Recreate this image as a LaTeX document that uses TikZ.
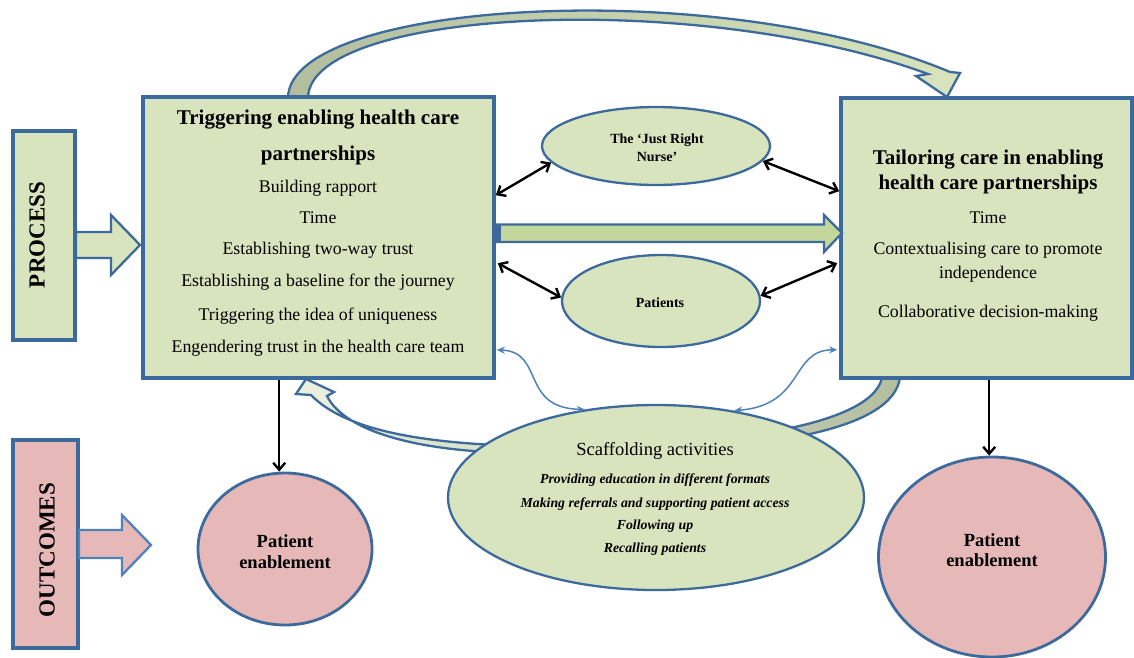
\documentclass[tikz,border=0pt]{standalone}
\usepackage{fontspec}
\setmainfont{Liberation Serif}
\usetikzlibrary{shapes.geometric,arrows.meta,calc}
\definecolor{bfill}{HTML}{D7E4BD}
\definecolor{bline}{HTML}{3D6A9C}
\definecolor{pfill}{HTML}{E6B9B8}
\definecolor{topfill}{HTML}{B3BE9F}
\definecolor{lgfill}{HTML}{EBF1DE}
\definecolor{midfill}{HTML}{C3D69B}
\definecolor{thinblue}{HTML}{4F81BD}
\begin{document}
\begin{tikzpicture}[x=1pt,y=-1pt,
  box/.style={draw=bline,line width=3.6pt,fill=bfill,inner sep=0pt},
  pbox/.style={draw=bline,line width=3.6pt,fill=pfill,inner sep=0pt},
  ell/.style={ellipse,draw=bline,line width=2.3pt,fill=bfill,inner sep=0pt},
  circ/.style={ellipse,draw=bline,line width=2.8pt,fill=pfill,inner sep=0pt},
  blk/.style={draw=bline,line width=2.3pt,line join=miter},
  dbl/.style={{Straight Barb[length=7pt,width=12pt]}-{Straight Barb[length=7pt,width=12pt]},line width=2.4pt,black},
  dn/.style={-{Straight Barb[length=7pt,width=12pt]},line width=2.4pt,black},
  thinarr/.style={{Stealth[length=8pt,width=7pt]}-{Stealth[length=8pt,width=7pt]},line width=1.5pt,thinblue},
  txt/.style={font=\fontsize{17.8}{20}\selectfont,inner sep=0pt,anchor=base},
  ttl/.style={font=\fontsize{21}{24}\selectfont\bfseries,inner sep=0pt,anchor=base},
  small/.style={font=\fontsize{14}{16}\selectfont\bfseries,inner sep=0pt,anchor=base},
  scaf/.style={font=\fontsize{18.5}{20}\selectfont,inner sep=0pt,anchor=base},
  itl/.style={font=\fontsize{13.8}{16}\selectfont\bfseries\itshape,inner sep=0pt,anchor=base},
  pe/.style={font=\fontsize{18.5}{20}\selectfont\bfseries,inner sep=0pt,anchor=base},
  side/.style={font=\fontsize{23}{25}\selectfont\bfseries,inner sep=0pt,rotate=90}
]
\useasboundingbox (0,0) rectangle (1134,657);

% top curved block arrow
\shadedraw[draw=bline,line width=2.3pt,line join=miter,left color=topfill,right color=bfill]
  (288,97) .. controls (292,0) and (720,-25) .. (950,72) -- (960,73) -- (947,97)
  -- (916,76) -- (928,74) .. controls (700,-10) and (312,8) .. (308,97) -- cycle;

% bottom curved block arrow
\shadedraw[draw=bline,line width=2.3pt,line join=miter,left color=lgfill,right color=topfill]
  (311,395) .. controls (345,430) and (420,443) .. (520,446)
  .. controls (700,450) and (870,430) .. (882,378) -- (900,378)
  .. controls (890,440) and (720,455) .. (520,453)
  .. controls (420,452) and (345,432) .. (327,396) -- (334,392) -- (306,379) -- (296,394) -- cycle;

% side boxes
\node[box,minimum width=62pt,minimum height=209pt] (PB) at (44,235.5) {};
\node[side] (PT) at (37,235) {PROCESS};
\node[pbox,minimum width=65pt,minimum height=208pt] (OB) at (45.5,544) {};
\node[side] (OT) at (47,550) {OUTCOMES};

% side block arrows
\path[blk,fill=bfill] (76,232) -- (111,232) -- (111,215) -- (140,245) -- (111,275) -- (111,258) -- (76,258) -- cycle;
\path[blk,fill=pfill,draw=thinblue] (79,530) -- (122,530) -- (122,515) -- (151,545) -- (122,575) -- (122,558) -- (79,558) -- cycle;

% main boxes
\node[box,minimum width=351pt,minimum height=281pt] (L) at (318.5,237.5) {};
\node[box,minimum width=291pt,minimum height=280pt] (R) at (986.5,238) {};

% middle block arrow
\path[blk,fill=midfill] (496,224.5) -- (824,224.5) -- (824,215) -- (842,233) -- (824,252) -- (824,242) -- (496,242) -- cycle;
\fill[bline] (494,223.5) rectangle (501,243);

% ellipses
\node[ell,minimum width=228pt,minimum height=78pt] (N) at (656,146) {};
\node[ell,minimum width=198pt,minimum height=92pt] (P) at (661,301) {};
\node[ell,minimum width=416pt,minimum height=185pt] (S) at (656,497.5) {};
\node[circ,minimum width=174pt,minimum height=152pt] (LC) at (285,549) {};
\node[circ,minimum width=227pt,minimum height=200pt] (RC) at (992,557) {};

% left box text
\node[ttl] (l1) at (318,124) {Triggering enabling health care};
\node[ttl] (l2) at (318,160) {partnerships};
\node[txt] (l3) at (318,192) {Building rapport};
\node[txt] (l4) at (318,223) {Time};
\node[txt] (l5) at (318,254) {Establishing two-way trust};
\node[txt] (l6) at (318,286) {Establishing a baseline for the journey};
\node[txt] (l7) at (318,320) {Triggering the idea of uniqueness};
\node[txt] (l8) at (318,352) {Engendering trust in the health care team};

% right box text
\node[ttl] (r1) at (988,164) {Tailoring care in enabling};
\node[ttl] (r2) at (988,189) {health care partnerships};
\node[txt] (r3) at (988,223) {Time};
\node[txt] (r4) at (988,254) {Contextualising care to promote};
\node[txt] (r5) at (988,278) {independence};
\node[txt] (r6) at (988,317) {Collaborative decision-making};

% ellipse texts
\node[small] (n1) at (657,143) {The ‘Just Right};
\node[small] (n2) at (657,161) {Nurse’};
\node[small] (p1) at (660,307) {Patients};
\node[scaf] (s1) at (655,455) {Scaffolding activities};
\node[itl] (s2) at (655,483) {Providing education in different formats};
\node[itl] (s3) at (655,507) {Making referrals and supporting patient access};
\node[itl] (s4) at (655,529) {Following up};
\node[itl] (s5) at (655,552) {Recalling patients};
\node[pe] (c1) at (285,547) {Patient};
\node[pe] (c2) at (285,568) {enablement};
\node[pe] (c3) at (992,546) {Patient};
\node[pe] (c4) at (992,566) {enablement};

% black connectors
\draw[dbl] ($(L.north east)+(0,100)$) -- (N.189.5);
\draw[dbl] ($(L.north east)+(2,168)$) -- (P.178);
\draw[dbl] (N.352.4) -- ($(R.north west)+(0,95)$);
\draw[dbl] (P.3) -- ($(R.north west)+(-2,167)$);
\coordinate (ld) at ($(L.south west)+(138,0)$);
\draw[dn] (ld) -- (ld |- LC.north);
\coordinate (rd) at ($(R.south west)+(150,0)$);
\draw[dn] (rd) -- (rd |- RC.north);

% thin blue connectors
\draw[thinarr] ($(L.south east)+(1,-30)$) .. controls (545,352) and (520,408) .. (S.129);
\draw[thinarr] ($(R.south west)+(-2,-30)$) .. controls (790,350) and (805,405) .. (S.48);
\end{tikzpicture}
\end{document}
